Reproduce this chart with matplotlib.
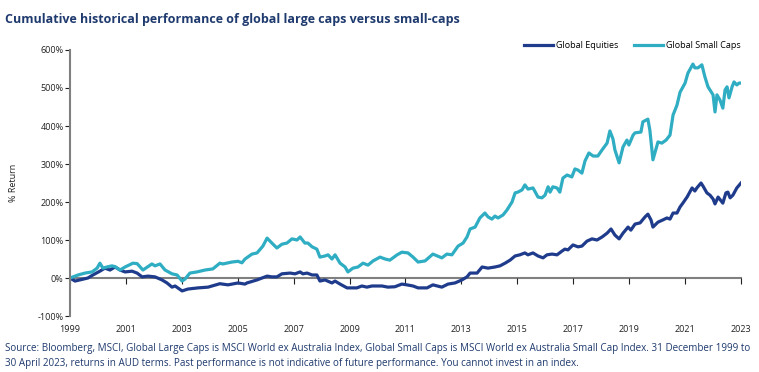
import matplotlib
matplotlib.use("Agg")
import matplotlib.pyplot as plt
from matplotlib.lines import Line2D

plt.rcParams['font.family'] = ['Open Sans', 'DejaVu Sans']

# values (x = position on the year axis, y = % return)
small_x = [1999.00, 1999.29, 1999.54, 1999.79, 1999.97, 2000.07, 2000.18, 2000.32,
           2000.50, 2000.61, 2000.79, 2000.97, 2001.25, 2001.40, 2001.61, 2001.93,
           2002.04, 2002.22, 2002.40, 2002.65, 2002.83, 2003.01, 2003.11, 2003.29,
           2003.54, 2003.83, 2004.11, 2004.36, 2004.47, 2004.79, 2005.01, 2005.15,
           2005.26, 2005.51, 2005.69, 2005.90, 2006.05, 2006.22, 2006.40, 2006.58,
           2006.76, 2006.94, 2007.12, 2007.23, 2007.40, 2007.51, 2007.66, 2007.83,
           2007.94, 2008.12, 2008.23, 2008.37, 2008.48, 2008.66, 2008.84, 2008.94,
           2009.12, 2009.30, 2009.48, 2009.66, 2009.84, 2010.09, 2010.27, 2010.44,
           2010.70, 2010.87, 2011.09, 2011.27, 2011.45, 2011.70, 2011.98, 2012.30,
           2012.48, 2012.66, 2012.88, 2013.06, 2013.20, 2013.31, 2013.49, 2013.66,
           2013.84, 2013.95, 2014.09, 2014.20, 2014.31, 2014.49, 2014.63, 2014.81,
           2014.92, 2015.02, 2015.17, 2015.27, 2015.38, 2015.56, 2015.74, 2015.88,
           2015.99, 2016.10, 2016.17, 2016.27, 2016.42, 2016.52, 2016.63, 2016.78,
           2016.95, 2017.06, 2017.17, 2017.31, 2017.42, 2017.56, 2017.71, 2017.88,
           2018.03, 2018.21, 2018.31, 2018.42, 2018.49, 2018.64, 2018.78, 2018.92,
           2018.99, 2019.14, 2019.21, 2019.42, 2019.49, 2019.67, 2019.74, 2019.85,
           2020.03, 2020.17, 2020.32, 2020.46, 2020.57, 2020.71, 2020.82, 2021.00,
           2021.10, 2021.28, 2021.35, 2021.46, 2021.60, 2021.71, 2021.82, 2022.00,
           2022.07, 2022.14, 2022.25, 2022.35, 2022.43, 2022.50, 2022.57, 2022.68,
           2022.75, 2022.85, 2022.93, 2023.00]
small_y = [0, 8, 13, 16, 26, 39, 26, 29,
           32, 30, 21, 29, 39, 38, 21, 37,
           32, 37, 21, 11, 8, -8, -3, 13,
           16, 21, 24, 39, 37, 42, 44, 40,
           50, 63, 66, 84, 105, 92, 79, 89,
           92, 103, 100, 108, 92, 92, 82, 76,
           55, 58, 61, 50, 61, 39, 29, 16,
           26, 29, 39, 34, 45, 55, 50, 47,
           61, 68, 66, 55, 42, 45, 63, 53,
           63, 61, 84, 92, 108, 129, 134, 158,
           171, 161, 155, 163, 158, 166, 179, 200,
           224, 226, 232, 245, 234, 237, 213, 211,
           218, 240, 226, 240, 237, 226, 263, 271,
           266, 287, 284, 276, 308, 329, 321, 321,
           337, 355, 387, 366, 337, 303, 345, 363,
           350, 376, 382, 384, 411, 418, 389, 311,
           358, 355, 363, 376, 429, 455, 489, 513,
           539, 563, 553, 553, 561, 529, 503, 482,
           437, 482, 468, 447, 495, 503, 474, 503,
           516, 508, 513, 513]

large_x = [1999.00, 1999.18, 1999.46, 1999.64, 1999.82, 2000.07, 2000.25, 2000.43,
           2000.61, 2000.79, 2000.97, 2001.22, 2001.40, 2001.58, 2001.79, 2002.04,
           2002.29, 2002.47, 2002.65, 2002.76, 2003.01, 2003.22, 2003.58, 2003.94,
           2004.36, 2004.65, 2005.01, 2005.26, 2005.33, 2005.69, 2006.05, 2006.22,
           2006.40, 2006.58, 2006.87, 2007.05, 2007.23, 2007.33, 2007.48, 2007.66,
           2007.83, 2007.94, 2008.12, 2008.37, 2008.48, 2008.66, 2008.91, 2009.26,
           2009.44, 2009.62, 2009.80, 2010.16, 2010.37, 2010.62, 2010.87, 2011.05,
           2011.27, 2011.45, 2011.77, 2011.98, 2012.30, 2012.52, 2012.77, 2013.02,
           2013.20, 2013.31, 2013.56, 2013.74, 2013.95, 2014.20, 2014.38, 2014.56,
           2014.74, 2014.92, 2015.09, 2015.27, 2015.38, 2015.56, 2015.74, 2015.92,
           2016.06, 2016.24, 2016.42, 2016.60, 2016.70, 2016.81, 2016.99, 2017.17,
           2017.31, 2017.49, 2017.67, 2017.85, 2018.03, 2018.21, 2018.35, 2018.49,
           2018.64, 2018.78, 2018.96, 2019.06, 2019.21, 2019.39, 2019.57, 2019.67,
           2019.78, 2019.85, 2020.03, 2020.21, 2020.35, 2020.46, 2020.57, 2020.71,
           2020.82, 2020.92, 2021.07, 2021.25, 2021.35, 2021.42, 2021.57, 2021.64,
           2021.78, 2021.89, 2022.00, 2022.07, 2022.18, 2022.35, 2022.46, 2022.53,
           2022.61, 2022.71, 2022.85, 2023.00]
large_y = [0, -8, -3, 0, 8, 18, 26, 21,
           29, 21, 16, 18, 13, 3, 5, 3,
           -5, -13, -24, -21, -34, -29, -26, -24,
           -15, -18, -13, -16, -13, -5, 5, 3,
           3, 11, 13, 11, 16, 11, 13, 8,
           8, -8, -5, -13, -8, -16, -26, -26,
           -21, -24, -21, -21, -24, -23, -16, -18,
           -21, -26, -26, -18, -24, -16, -13, -5,
           3, 13, 13, 29, 26, 29, 32, 39,
           47, 58, 61, 66, 61, 66, 58, 53,
           61, 63, 61, 71, 76, 74, 87, 82,
           84, 97, 103, 100, 108, 118, 129, 113,
           103, 118, 134, 126, 142, 145, 161, 168,
           153, 134, 147, 153, 158, 155, 171, 171,
           187, 197, 213, 237, 229, 237, 250, 242,
           224, 218, 208, 195, 213, 197, 224, 226,
           211, 218, 237, 250]

year_ticks = list(range(1999, 2024, 2))
pct_ticks = [-100, 0, 100, 200, 300, 400, 500, 600]

navy = '#1f3b8c'
cyan = '#2fadc3'
text_blue = '#1f3a6e'

fig = plt.figure(figsize=(7.59, 3.72), dpi=100)
ax = fig.add_axes([0.0922, 0.1505, 0.8841, 0.7151])

ax.plot(large_x, large_y, color=navy, lw=2.3, solid_joinstyle='round')
ax.plot(small_x, small_y, color=cyan, lw=2.3, solid_joinstyle='round')

ax.set_xlim(1999, 2023)
ax.set_ylim(-100, 600)
ax.set_xticks(year_ticks)
ax.set_xticklabels([str(y) for y in year_ticks])
ax.set_yticks(pct_ticks)
ax.set_yticklabels(['%d%%' % v for v in pct_ticks])

for s in ['top', 'right']:
    ax.spines[s].set_visible(False)
ax.spines['left'].set_color('#808080')
ax.spines['left'].set_linewidth(1.5)
ax.spines['bottom'].set_position(('data', 0))
ax.spines['bottom'].set_color('#808080')
ax.spines['bottom'].set_linewidth(1.5)
ax.spines['bottom'].set_zorder(1)

ax.tick_params(axis='y', length=3.5, width=0.8, color='#222222', labelsize=6.5,
               pad=1, labelcolor='#222222')
ax.tick_params(axis='x', length=4, width=0.8, color='#222222', labelsize=6.5,
               pad=30, labelcolor='#222222')

ax.set_ylabel('% Return', fontsize=6.5, color='#222222', labelpad=14)

handles = [Line2D([], [], color=navy, lw=2.3), Line2D([], [], color=cyan, lw=2.3)]
ax.legend(handles, ['Global Equities', 'Global Small Caps'], loc='lower right',
          bbox_to_anchor=(1.005, 0.985), ncol=2, frameon=False, fontsize=6.5,
          handlelength=3.2, handletextpad=0.3, columnspacing=1.8, borderaxespad=0)

fig.text(0.007, 0.965, 'Cumulative historical performance of global large caps versus small-caps',
         fontsize=9, fontweight='bold', color=text_blue, va='top', ha='left')

fig.text(0.007, 0.043,
         'Source: Bloomberg, MSCI, Global Large Caps is MSCI World ex Australia Index, '
         'Global Small Caps is MSCI World ex Australia Small Cap Index. 31 December 1999 to\n'
         '30 April 2023, returns in AUD terms. Past performance is not indicative of future '
         'performance. You cannot invest in an index.',
         fontsize=7.1, color=text_blue, va='center', ha='left', linespacing=1.45)

fig.savefig('out.png', dpi=100)
